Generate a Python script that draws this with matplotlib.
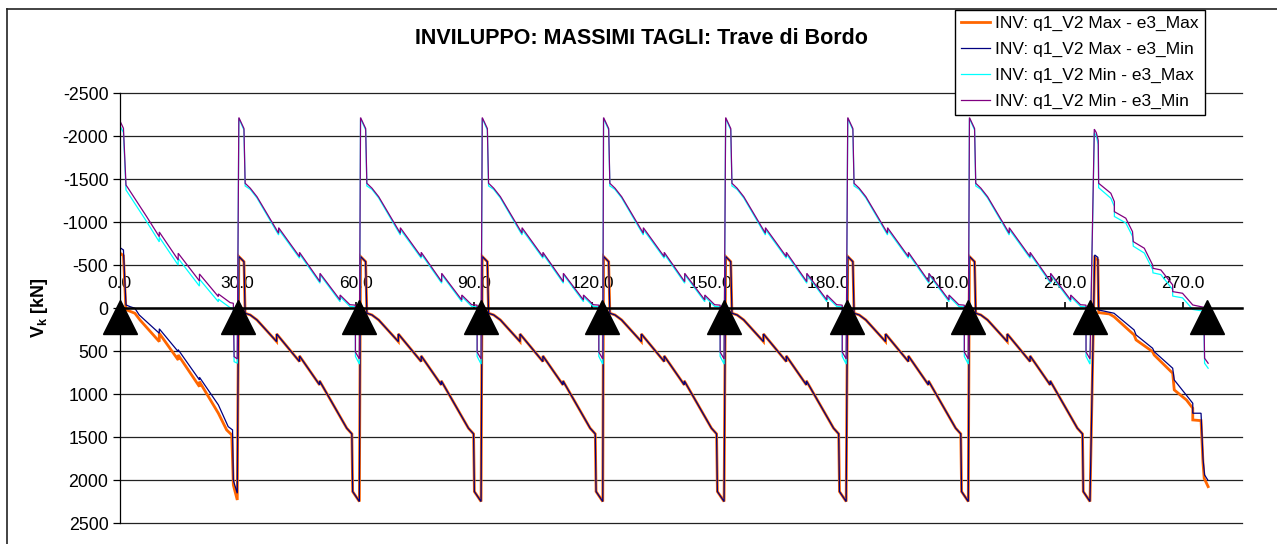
import numpy as np
import matplotlib.pyplot as plt
from matplotlib.lines import Line2D

plt.rcParams['font.family'] = ['Liberation Sans', 'DejaVu Sans']
plt.rcParams['mathtext.fontset'] = 'custom'
plt.rcParams['mathtext.rm'] = 'Liberation Sans'
plt.rcParams['mathtext.bf'] = 'Liberation Sans:bold'

# appoggi della trave (m)
supports = [0.0, 30.0, 60.9, 91.8, 122.6, 153.6, 184.6, 215.5, 246.5, 276.0]

# campata tipica: ascissa dall'appoggio di sinistra (m), taglio (kN)
mid_max_dx = [0.3, 1.6, 1.9, 3.2, 4.9, 9.9, 9.9, 15.7, 15.7, 20.8, 20.8, 24.3, 27.7, 29.0, 29.2, 30.9]
mid_max_v = [-600, -540, 59, 79, 137, 389, 300, 621, 555, 892, 845, 1124, 1395, 1461, 2131, 2247]
mid_min_dx = [0.3, 1.6, 1.9, 3.2, 4.9, 10.4, 10.4, 15.7, 15.7, 20.9, 20.9, 26.0, 26.0, 28.5, 29.9, 29.9, 30.9]
mid_purple_v = [-2215, -2087, -1451, -1394, -1295, -870, -935, -598, -649, -308, -405, -95, -153, -40, -35, 510, 590]
mid_cyan_v = [-2205, -2070, -1420, -1380, -1280, -850, -915, -580, -630, -290, -390, -75, -135, -20, -15, 560, 650]

# prima campata
sp1_orange_x = [0.0, 1.0, 1.6, 1.8, 3.9, 5.2, 10.1, 10.1, 14.9, 14.9, 20.3, 20.3, 25.1, 27.2, 28.5, 28.9, 29.9]
sp1_orange_v = [-643, -610, -10, 21, 59, 137, 389, 292, 602, 544, 912, 854, 1221, 1415, 1473, 2054, 2229]
sp1_navy_x = [0.0, 1.0, 1.65, 2.7, 3.9, 5.0, 10.1, 10.1, 14.9, 14.9, 20.3, 20.3, 25.1, 27.6, 28.7, 28.9, 29.9]
sp1_navy_v = [-707, -676, -37, -17, 1, 79, 292, 240, 505, 483, 834, 803, 1124, 1377, 1415, 2000, 2151]
sp1_min_x = [0.0, 1.0, 1.65, 2.2, 6.9, 10.1, 10.1, 14.9, 14.9, 20.3, 20.3, 25.1, 25.1, 28.1, 28.9, 29.1, 29.9]
sp1_purple_v = [-2187, -2090, -1430, -1393, -1063, -830, -885, -560, -638, -316, -397, -134, -165, -64, -57, 563, 590]
sp1_cyan_v = [-2129, -2040, -1373, -1335, -1005, -770, -825, -500, -578, -256, -337, -74, -105, -5, 0, 622, 640]

# ultima campata
sp9_orange_x = [247.6, 248.4, 248.6, 251.3, 252.5, 257.6, 258.1, 262.3, 262.7, 267.4, 267.8, 270.9, 272.5, 272.5, 274.6, 275.1, 275.4, 276.4]
sp9_orange_v = [-585, -560, 52, 67, 99, 311, 369, 505, 544, 756, 950, 1067, 1163, 1299, 1307, 1802, 1977, 2074]
sp9_navy_x = [247.6, 248.4, 248.6, 252.5, 257.6, 258.1, 262.3, 262.7, 267.4, 267.8, 272.5, 272.5, 274.6, 275.1, 275.5, 276.3]
sp9_navy_v = [-618, -590, 21, 59, 253, 311, 466, 505, 698, 834, 1105, 1221, 1221, 1750, 1938, 1996]
sp9_min_x = [247.5, 248.0, 248.5, 248.6, 251.7, 252.6, 252.6, 255.5, 257.2, 257.4, 260.2, 262.3, 262.4, 264.4, 267.4, 267.4, 269.9, 272.5, 274.6, 275.3, 275.5, 276.4]
sp9_purple_v = [-2080, -2040, -1950, -1451, -1335, -1237, -1121, -1045, -889, -773, -696, -502, -463, -444, -270, -192, -173, -37, -17, -10, 582, 640]
sp9_cyan_v = [-2040, -2000, -1900, -1400, -1277, -1180, -1065, -990, -835, -720, -640, -450, -410, -390, -215, -140, -120, 15, 30, 40, 640, 698]

series_labels = ['INV: q1_V2 Max - e3_Max', 'INV: q1_V2 Max - e3_Min',
                 'INV: q1_V2 Min - e3_Max', 'INV: q1_V2 Min - e3_Min']
series_colors = ['#FF6600', '#000080', '#00FFFF', '#800080']
series_widths = [2.0, 0.9, 0.9, 0.9]
y_ticks = [-2500, -2000, -1500, -1000, -500, 0, 500, 1000, 1500, 2000, 2500]
x_ticks = [0, 30, 60, 90, 120, 150, 180, 210, 240, 270]


def build(first_x, first_v, mid_dx, mid_v, last_x, last_v):
    xs = list(first_x)
    vs = list(first_v)
    for s in supports[1:8]:
        xs += [s + d for d in mid_dx]
        vs += list(mid_v)
    xs += last_x
    vs += last_v
    return xs, vs


curves = [
    build(sp1_orange_x, sp1_orange_v, mid_max_dx, mid_max_v, sp9_orange_x, sp9_orange_v),
    build(sp1_navy_x, sp1_navy_v, mid_max_dx, mid_max_v, sp9_navy_x, sp9_navy_v),
    build(sp1_min_x, sp1_cyan_v, mid_min_dx, mid_cyan_v, sp9_min_x, sp9_cyan_v),
    build(sp1_min_x, sp1_purple_v, mid_min_dx, mid_purple_v, sp9_min_x, sp9_purple_v),
]

fig = plt.figure(figsize=(12.77, 5.44), dpi=100)
ax = fig.add_axes([119.5 / 1277, 1 - 523.3 / 544, (1242 - 119.5) / 1277, (523.3 - 93) / 544])

for (xs, vs), lab, col, lw in zip(curves, series_labels, series_colors, series_widths):
    ax.plot(xs, vs, color=col, lw=lw, label=lab, solid_joinstyle='miter')

# appoggi
ax.plot(supports, [105] * len(supports), linestyle='none', marker='^', ms=24,
        color='black', zorder=6, clip_on=False)

ax.set_xlim(0, 285)
ax.set_ylim(2500, -2500)
ax.set_yticks(y_ticks)
ax.set_yticklabels([str(t) for t in y_ticks])
ax.yaxis.grid(True, color='#222222', lw=0.9)
for gl in ax.get_ygridlines():
    gl.set_clip_on(False)
ax.set_axisbelow(True)

ax.spines['right'].set_visible(False)
ax.spines['bottom'].set_visible(False)
ax.spines['top'].set_position(('data', 0))
ax.spines['top'].set_linewidth(1.8)
ax.spines['top'].set_zorder(4)
ax.spines['left'].set_linewidth(0.9)
ax.xaxis.set_ticks_position('top')
ax.set_xticks(x_ticks)
ax.set_xticklabels([f'{t:.1f}' for t in x_ticks])
ax.tick_params(axis='x', direction='out', length=4, width=1.2, pad=8, labelsize=12.5)
ax.tick_params(axis='y', direction='out', length=5, width=0.9, pad=3, labelsize=12.8)

ax.set_ylabel(r'$\mathbf{V_k}$ [kN]', fontsize=13, fontweight='bold', labelpad=9)
fig.text(641 / 1277, 1 - 38 / 544, 'INVILUPPO: MASSIMI TAGLI: Trave di Bordo',
         ha='center', va='center', fontsize=15.5, fontweight='bold')

leg = ax.legend(loc='upper right', bbox_to_anchor=(1204.5 / 1277, 1 - 9.5 / 544),
                bbox_transform=fig.transFigure, fontsize=12.5, frameon=True, fancybox=False,
                framealpha=1, edgecolor='black', handlelength=1.7, handletextpad=0.25,
                labelspacing=0.62, borderpad=0.36, borderaxespad=0)
leg.get_frame().set_linewidth(1.0)
leg.set_zorder(10)

# cornice esterna
fig.add_artist(Line2D([6.7 / 1277, 6.7 / 1277], [0, 1 - 8.5 / 544], color='#222222', lw=1.2))
fig.add_artist(Line2D([6.7 / 1277, 1], [1 - 8.5 / 544, 1 - 8.5 / 544], color='#222222', lw=1.2))

fig.savefig('out.png', dpi=100)
